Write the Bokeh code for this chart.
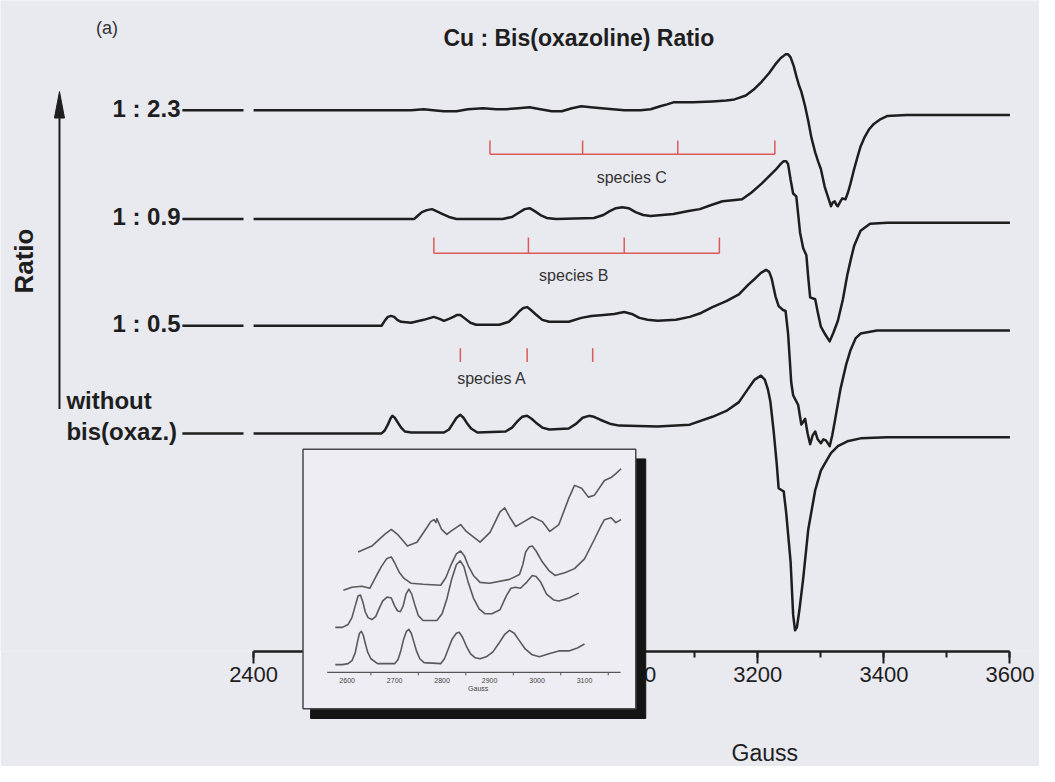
import math
from bokeh.plotting import figure
from bokeh.models import Range1d, Label, SingleIntervalTicker
from bokeh.core.properties import value
from bokeh.embed import file_html
from bokeh.resources import INLINE

# ---------------- data ----------------
# main spectra: field (Gauss) and signal relative to each trace's baseline
g1 = [2400, 2650, 2670, 2685, 2702, 2722, 2740, 2764, 2785, 2800, 2820, 2838, 2855, 2873, 2889,
      2905, 2920, 2935, 2952, 2970, 2988, 3014, 3030, 3045, 3056, 3066, 3080, 3097, 3128, 3150,
      3163, 3181, 3195, 3206, 3218, 3228, 3236, 3244, 3248, 3252, 3257, 3261, 3265, 3269, 3275,
      3280, 3285, 3291, 3296, 3300, 3306, 3311, 3316, 3319, 3322, 3325, 3327, 3331, 3334, 3339,
      3343, 3347, 3352, 3358, 3363, 3369, 3376, 3384, 3395, 3405, 3436, 3600]
s1 = [0, 0, 1, 0, -1, -1, 1, 2, 1, 1, 2, 3, 1, -1, -1,
      2, 4, 3, 2, 1, 0, 0, 1, 4, 6, 8, 8, 8, 9, 10,
      11, 15, 22, 29, 38, 47, 53, 57, 57, 54, 45, 35, 26, 19, 4,
      -11, -28, -43, -53, -60, -78, -88, -98, -94, -93, -97, -98, -93, -90, -91,
      -84, -75, -62, -48, -37, -28, -20, -14, -9, -6, -5, -5]

g2 = [2400, 2655, 2660, 2667, 2675, 2683, 2690, 2700, 2710, 2722, 2795, 2810, 2820, 2830, 2838,
      2846, 2855, 2865, 2880, 2940, 2955, 2965, 2975, 2985, 2995, 3006, 3018, 3030, 3066, 3090,
      3108, 3125, 3144, 3160, 3175, 3190, 3206, 3220, 3228, 3236, 3241, 3245, 3248, 3252, 3256,
      3261, 3264, 3267, 3272, 3277, 3280, 3283, 3291, 3295, 3300, 3307, 3314, 3320, 3327, 3335,
      3342, 3348, 3353, 3363, 3378, 3405, 3600]
s2 = [0, 0, 3, 7, 9, 10, 8, 5, 2, 0, 0, 2, 6, 10, 11,
      8, 4, 1, 0, 1, 4, 8, 11, 12, 11, 7, 4, 3, 5, 8,
      10, 14, 18, 19, 20, 27, 36, 45, 50, 56, 59, 59, 56, 40, 26,
      23, 5, -14, -30, -37, -60, -80, -82, -95, -110, -118, -125, -116, -104, -82,
      -57, -40, -27, -12, -5, -4, -4]

g3 = [2400, 2603, 2608, 2613, 2618, 2623, 2628, 2634, 2650, 2670, 2686, 2695, 2702, 2710, 2717,
      2723, 2728, 2734, 2744, 2753, 2790, 2805, 2815, 2822, 2828, 2834, 2840, 2847, 2858, 2869,
      2900, 2920, 2936, 2955, 2972, 2988, 3000, 3012, 3025, 3041, 3070, 3092, 3110, 3128, 3150,
      3170, 3185, 3197, 3205, 3213, 3218, 3222, 3228, 3233, 3240, 3244, 3248, 3253, 3256, 3260,
      3264, 3269, 3272, 3275, 3279, 3283, 3287, 3291, 3295, 3300, 3304, 3308, 3314, 3318, 3322,
      3331, 3340, 3347, 3355, 3363, 3389, 3600]
s3 = [0, 0, 5, 9, 10, 9, 6, 4, 3, 6, 9, 7, 5, 7, 9,
      11, 11, 8, 3, 1, 1, 4, 10, 15, 18, 19, 16, 12, 6, 4,
      4, 8, 10, 11, 12, 14, 12, 8, 6, 5, 6, 9, 13, 19, 25,
      32, 42, 49, 54, 57, 55, 48, 30, 20, 16, 15, -8, -58, -71, -76,
      -81, -101, -98, -95, -110, -121, -112, -108, -116, -120, -116, -117, -123, -112, -98,
      -65, -40, -25, -13, -8, -5, -5]

g4 = [2400, 2603, 2608, 2613, 2617, 2620, 2624, 2628, 2634, 2640, 2650, 2702, 2710, 2716, 2722,
      2728, 2733, 2738, 2745, 2755, 2800, 2810, 2818, 2826, 2834, 2841, 2848, 2858, 2869, 2900,
      2912, 2922, 2932, 2940, 2950, 2965, 2980, 3041, 3092, 3128, 3150, 3170, 3185, 3195, 3205,
      3211, 3216, 3220, 3225, 3230, 3233, 3238, 3241, 3245, 3252, 3256, 3259, 3262, 3266, 3272,
      3280, 3291, 3300, 3306, 3316, 3327, 3342, 3363, 3405, 3600]
s4 = [0, 0, 3, 9, 15, 18, 16, 12, 6, 2, 1, 1, 4, 10, 16,
      19, 16, 11, 5, 1, 2, 6, 12, 17, 18, 15, 11, 6, 4, 5,
      10, 16, 18, 17, 14, 10, 8, 7, 9, 17, 23, 32, 46, 55, 59,
      55, 45, 32, 3, -31, -56, -58, -59, -81, -131, -185, -201, -198, -180, -148,
      -98, -58, -38, -31, -20, -13, -8, -5, -4, -4]

trace_fields = [g1, g2, g3, g4]
trace_signals = [s1, s2, s3, s4]
trace_offsets = [553, 442, 333, 223]
ratio_labels = ["1 : 2.3", "1 : 0.9", "1 : 0.5"]
last_label = ["without", "bis(oxaz.)"]

# hyperfine markers (Gauss)
species_c = [2775, 2922, 3073, 3227]
species_b = [2686, 2836, 2988, 3139]
species_a = [2728, 2834, 2938]

# inset spectra (Gauss, signal above the inset axis)
ia_g = [2623, 2652, 2679, 2693, 2706, 2727, 2747, 2768, 2776, 2783, 2787, 2789, 2799, 2810, 2818,
        2839, 2851, 2880, 2901, 2922, 2932, 2942, 2955, 2969, 2990, 3011, 3027, 3046, 3067, 3079,
        3094, 3108, 3121, 3142, 3156, 3166, 3177]
ia_s = [123, 129, 141, 146, 141, 129, 133, 148, 154, 156, 153, 157, 146, 141, 144,
        151, 144, 133, 143, 164, 168, 159, 149, 153, 159, 154, 144, 151, 178, 191,
        188, 179, 181, 196, 199, 203, 208]
ib_g = [2592, 2610, 2631, 2648, 2662, 2672, 2683, 2693, 2700, 2710, 2720, 2735, 2760, 2797, 2808,
        2818, 2830, 2839, 2847, 2856, 2866, 2880, 2900, 2942, 2963, 2970, 2976, 2983, 2990, 2998,
        3011, 3025, 3038, 3060, 3079, 3100, 3121, 3135, 3142, 3156, 3166, 3177]
ib_s = [84, 87, 88, 86, 99, 108, 116, 118, 112, 102, 96, 91, 90, 89, 97,
        109, 121, 124, 119, 108, 99, 92, 91, 95, 100, 110, 123, 128, 129, 124,
        113, 104, 99, 102, 106, 116, 136, 150, 156, 158, 153, 156]
ic_g = [2575, 2590, 2602, 2610, 2617, 2623, 2628, 2633, 2638, 2644, 2652, 2660, 2668, 2675, 2684,
        2693, 2700, 2706, 2712, 2718, 2724, 2730, 2736, 2742, 2750, 2760, 2789, 2800, 2810, 2820,
        2830, 2838, 2846, 2855, 2866, 2878, 2890, 2905, 2922, 2935, 2945, 2955, 2965, 2978, 2990,
        2998, 3008, 3020, 3035, 3046, 3067, 3088]
ic_s = [46, 46, 49, 56, 68, 78, 79, 72, 62, 56, 54, 57, 66, 73, 77,
        76, 68, 63, 62, 68, 80, 85, 80, 70, 58, 53, 53, 60, 75, 95,
        110, 114, 108, 92, 76, 65, 60, 60, 64, 78, 86, 87, 86, 92, 99,
        98, 92, 80, 74, 73, 76, 81]
id_g = [2575, 2590, 2602, 2610, 2617, 2622, 2626, 2630, 2634, 2638, 2643, 2650, 2664, 2700, 2707,
        2713, 2719, 2725, 2730, 2735, 2740, 2746, 2753, 2762, 2797, 2805, 2813, 2821, 2830, 2836,
        2843, 2851, 2860, 2870, 2880, 2893, 2907, 2920, 2932, 2942, 2952, 2962, 2975, 2990, 3005,
        3025, 3046, 3067, 3085, 3100]
id_s = [8, 8, 9, 12, 20, 32, 40, 42, 38, 30, 21, 14, 9, 9, 13,
        22, 34, 42, 44, 40, 32, 22, 14, 10, 9, 14, 24, 34, 40, 41,
        36, 27, 19, 15, 14, 16, 21, 30, 39, 43, 40, 33, 24, 18, 16,
        19, 22, 22, 25, 29]
inset_traces = [(ia_g, ia_s), (ib_g, ib_s), (ic_g, ic_s), (id_g, id_s)]
inset_ticks = [2600, 2700, 2800, 2900, 3000, 3100]

# ---------------- styling / layout ----------------
BG = "#e9e9f0"
INK = "#1e1e1e"
RED = "#dd5a5a"
W, H = 1039, 766
FONT = "Liberation Sans"

p = figure(width=W, height=H,
           x_range=Range1d(1998.44, 3646.88), y_range=Range1d(0.4, 665),
           output_backend="svg", toolbar_location=None,
           min_border_left=0, min_border_right=0, min_border_top=0, min_border_bottom=115,
           y_axis_location=None,
           background_fill_color=BG, border_fill_color=BG, outline_line_color=None)
p.grid.visible = False

ax = p.xaxis[0]
ax.bounds = (2400, 3600)
ax.ticker = SingleIntervalTicker(interval=200, num_minor_ticks=2)
ax.axis_line_width = 2.5
ax.axis_line_color = INK
ax.major_tick_out = 12
ax.major_tick_in = 0
ax.minor_tick_out = 6
ax.minor_tick_in = 0
ax.major_tick_line_width = 2
ax.minor_tick_line_width = 2
ax.major_tick_line_color = INK
ax.minor_tick_line_color = INK
ax.major_label_text_font = FONT
ax.major_label_text_font_size = "22px"
ax.major_label_text_color = INK
ax.major_label_standoff = 3

# main spectra
for g, s, off in zip(trace_fields, trace_signals, trace_offsets):
    p.line(g, [off + v for v in s], line_color=INK, line_width=2.5, line_join="round")

# leader lines from the ratio labels
p.segment(x0=[2287] * 4, x1=[2384] * 4, y0=trace_offsets, y1=trace_offsets,
          line_color=INK, line_width=2.5)

# species markers
def marker(fields, y_line, y_top, with_bar=True):
    if with_bar:
        p.line([fields[0], fields[-1]], [y_line, y_line], line_color=RED, line_width=1.5)
    p.segment(x0=fields, x1=fields, y0=[y_line] * len(fields), y1=[y_top] * len(fields),
              line_color=RED, line_width=1.5)

marker(species_c, 508, 522)
marker(species_b, 407, 423)
marker(species_a, 296, 310, with_bar=False)

for txt, xg, yv in [("species C", 3000, 484), ("species B", 2908, 384), ("species A", 2778, 279)]:
    p.add_layout(Label(x=xg, y=yv, text=txt, text_font=FONT, text_font_size="16px",
                       text_color="#333333", text_align="center", text_baseline="middle"))

# ratio labels
for txt, off in zip(ratio_labels, trace_offsets[:3]):
    p.add_layout(Label(x=2284, y=off + 2, text=txt, text_font=FONT, text_font_size="24px",
                       text_font_style="bold", text_color=INK, text_align="right",
                       text_baseline="middle"))
p.add_layout(Label(x=2103, y=257, text=last_label[0], text_font=FONT, text_font_size="24px",
                   text_font_style="bold", text_color=INK, text_align="left", text_baseline="middle"))
p.add_layout(Label(x=2103, y=225, text=last_label[1], text_font=FONT, text_font_size="24px",
                   text_font_style="bold", text_color=INK, text_align="left", text_baseline="middle"))

# "Ratio" arrow
p.segment(x0=[2092], x1=[2092], y0=[248], y1=[550], line_color=INK, line_width=2)
p.patch([2084, 2092, 2100], [545, 572, 545], fill_color=INK, line_color=INK)
p.add_layout(Label(x=2036, y=399, text="Ratio", angle=math.pi / 2, text_font=FONT,
                   text_font_size="26px", text_font_style="bold", text_color=INK,
                   text_align="center", text_baseline="middle"))

# titles
p.add_layout(Label(x=2916, y=627, text="Cu : Bis(oxazoline) Ratio", text_font=FONT,
                   text_font_size="23px", text_font_style="bold", text_color=INK,
                   text_align="center", text_baseline="middle"))
p.add_layout(Label(x=2150, y=637, text="(a)", text_font=FONT, text_font_size="18px",
                   text_color="#333333", text_align="left", text_baseline="middle"))

# x-axis title (placed under the right part of the axis, as in the original)
p.text(x=[3211], y=[-103], text=["Gauss"], text_font=value(FONT), text_font_size="23px",
       text_color=INK, text_align="center", text_baseline="middle", level="overlay")

# ---------------- inset ----------------
p.extra_x_ranges = {"ix": Range1d(1869.71, 4058.51)}
p.extra_y_ranges = {"iy": Range1d(21.4, 686)}
IK = dict(x_range_name="ix", y_range_name="iy", level="overlay")

p.quad(left=[2523], right=[3229], top=[218], bottom=[-47], fill_color="#141414",
       line_color="#141414", **IK)
p.quad(left=[2507], right=[3208], top=[228], bottom=[-37], fill_color="#ededf3",
       line_color="#4a4a4a", line_width=1.5, **IK)
for g, s in inset_traces:
    p.line(g, s, line_color="#5a5a5a", line_width=1.6, line_join="round", **IK)
p.line([2558, 3176], [0, 0], line_color="#555555", line_width=1.2, **IK)
minor = [t + 50 for t in inset_ticks]
p.segment(x0=minor, x1=minor, y0=[0] * len(minor), y1=[-3] * len(minor),
          line_color="#555555", line_width=1, **IK)
p.text(x=inset_ticks, y=[-8] * len(inset_ticks), text=[str(t) for t in inset_ticks],
       text_font=value(FONT), text_font_size="7px", text_color="#444444",
       text_align="center", text_baseline="middle", **IK)
p.text(x=[2876], y=[-16], text=["Gauss"], text_font=value(FONT), text_font_size="7px",
       text_color="#444444", text_align="center", text_baseline="middle", **IK)

open("out.html", "w").write(file_html(p, INLINE))
